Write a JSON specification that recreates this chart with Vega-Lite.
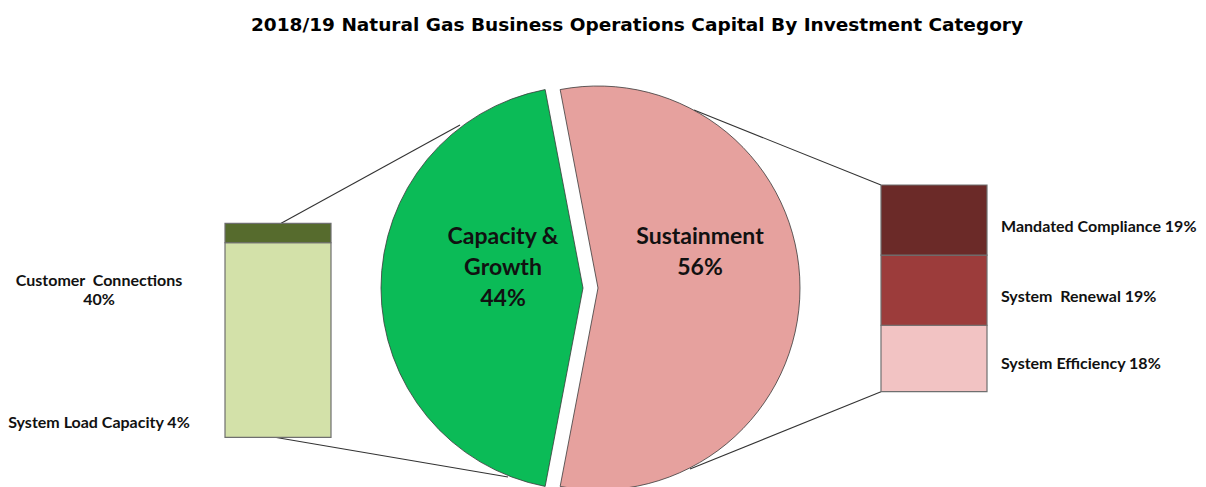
{
  "$schema": "https://vega.github.io/schema/vega-lite/v6.json",
  "autosize": {"type": "none"},
  "width": 1206,
  "height": 442,
  "padding": {"left": 0, "top": 45, "right": 0, "bottom": 0},
  "background": "white",
  "config": {"view": {"stroke": null}},
  "title": {
    "text": "2018/19 Natural Gas Business Operations Capital By Investment Category",
    "font": "DejaVu Sans",
    "fontSize": 18.5,
    "fontWeight": "bold",
    "color": "#000000",
    "anchor": "middle",
    "dx": 34,
    "offset": 11
  },
  "datasets": {
    "pie": [
      {"cat": "Capacity & Growth", "value": 44, "k": 1, "label": "Capacity &\nGrowth\n44%"},
      {"cat": "Sustainment", "value": 56, "k": 2, "label": "Sustainment\n56%"}
    ],
    "left": [
      {"side": "Capacity & Growth", "cat": "Customer  Connections", "value": 40, "k": 1, "label": "Customer\u00a0 Connections\n40%"},
      {"side": "Capacity & Growth", "cat": "System Load Capacity", "value": 4, "k": 2, "label": "System Load Capacity 4%"}
    ],
    "right": [
      {"side": "Sustainment", "cat": "System Efficiency", "value": 18, "k": 1, "label": "System Efficiency 18%"},
      {"side": "Sustainment", "cat": "System  Renewal", "value": 19, "k": 2, "label": "System\u00a0 Renewal 19%"},
      {"side": "Sustainment", "cat": "Mandated Compliance", "value": 19, "k": 3, "label": "Mandated Compliance 19%"}
    ]
  },
  "resolve": {"scale": {"y": "independent"}},
  "layer": [
    {
      "data": {"values": [{}]},
      "mark": {"type": "rule", "color": "#333333", "strokeWidth": 1.1},
      "encoding": {
        "x": {"datum": "Capacity & Growth", "type": "nominal", "bandPosition": 0.53, "scale": {"domain": ["Capacity & Growth", "Sustainment"], "range": [225, 987], "paddingInner": 0.83841, "paddingOuter": 0}, "axis": null},
        "y": {"datum": 44, "type": "quantitative", "scale": {"domain": [0, 44], "range": [392.3, 178.3], "nice": false, "zero": false}, "axis": null},
        "x2": {"value": 460},
        "y2": {"value": 80}
      }
    },
    {
      "data": {"values": [{}]},
      "mark": {"type": "rule", "color": "#333333", "strokeWidth": 1.1},
      "encoding": {
        "x": {"datum": "Capacity & Growth", "type": "nominal", "bandPosition": 0.47, "axis": null},
        "y": {"datum": 0, "type": "quantitative", "scale": {"domain": [0, 44], "range": [392.3, 178.3], "nice": false, "zero": false}, "axis": null},
        "x2": {"value": 508},
        "y2": {"value": 432}
      }
    },
    {
      "data": {"values": [{}]},
      "mark": {"type": "rule", "color": "#333333", "strokeWidth": 1.1},
      "encoding": {
        "x": {"datum": "Sustainment", "type": "nominal", "bandPosition": 0, "axis": null},
        "y": {"datum": 56, "type": "quantitative", "scale": {"domain": [0, 56], "range": [346.7, 140], "nice": false, "zero": false}, "axis": null},
        "x2": {"value": 694},
        "y2": {"value": 65}
      }
    },
    {
      "data": {"values": [{}]},
      "mark": {"type": "rule", "color": "#333333", "strokeWidth": 1.1},
      "encoding": {
        "x": {"datum": "Sustainment", "type": "nominal", "bandPosition": 0, "axis": null},
        "y": {"datum": 0, "type": "quantitative", "scale": {"domain": [0, 56], "range": [346.7, 140], "nice": false, "zero": false}, "axis": null},
        "x2": {"value": 690},
        "y2": {"value": 424}
      }
    },
    {
      "data": {"name": "left"},
      "transform": [{"stack": "value", "groupby": ["side"], "sort": [{"field": "k", "order": "ascending"}], "as": ["v0", "v1"]}],
      "mark": {"type": "bar", "stroke": "#6f6f6f", "strokeWidth": 1.2},
      "encoding": {
        "x": {"field": "side", "type": "nominal", "axis": null},
        "y": {"field": "v0", "type": "quantitative", "scale": {"domain": [0, 44], "range": [392.3, 178.3], "nice": false, "zero": false}, "axis": null},
        "y2": {"field": "v1"},
        "color": {"field": "cat", "type": "nominal", "legend": null, "scale": {"domain": ["Capacity & Growth", "Sustainment", "Customer  Connections", "System Load Capacity", "System Efficiency", "System  Renewal", "Mandated Compliance"], "range": ["#0bbb57", "#e6a19e", "#d3e1a9", "#566b2d", "#f2c3c3", "#9c3c3b", "#6b2a28"]}}
      }
    },
    {
      "data": {"name": "right"},
      "transform": [{"stack": "value", "groupby": ["side"], "sort": [{"field": "k", "order": "ascending"}], "as": ["v0", "v1"]}],
      "mark": {"type": "bar", "stroke": "#6f6f6f", "strokeWidth": 1.2},
      "encoding": {
        "x": {"field": "side", "type": "nominal", "axis": null},
        "y": {"field": "v0", "type": "quantitative", "scale": {"domain": [0, 56], "range": [346.7, 140], "nice": false, "zero": false}, "axis": null},
        "y2": {"field": "v1"},
        "color": {"field": "cat", "type": "nominal", "legend": null}
      }
    },
    {
      "data": {"name": "pie"},
      "mark": {"type": "arc", "outerRadius": 202, "stroke": "#3a3a3a", "strokeWidth": 0.8, "xOffset": -20, "yOffset": 22},
      "encoding": {
        "theta": {"field": "value", "type": "quantitative", "stack": true, "scale": {"domain": [0, 100], "range": [3.3301, 9.6133]}},
        "order": {"field": "k", "type": "quantitative"},
        "color": {"field": "cat", "type": "nominal", "legend": null},
        "opacity": {"condition": {"test": "datum.cat === 'Capacity & Growth'", "value": 1}, "value": 0}
      }
    },
    {
      "data": {"name": "pie"},
      "mark": {"type": "arc", "outerRadius": 202, "stroke": "#3a3a3a", "strokeWidth": 0.8, "xOffset": -5, "yOffset": 22},
      "encoding": {
        "theta": {"field": "value", "type": "quantitative", "stack": true},
        "order": {"field": "k", "type": "quantitative"},
        "color": {"field": "cat", "type": "nominal", "legend": null},
        "opacity": {"condition": {"test": "datum.cat === 'Sustainment'", "value": 1}, "value": 0}
      }
    },
    {
      "data": {"name": "pie"},
      "mark": {"type": "text", "radius": 80, "font": "Lato", "fontWeight": "bold", "fontSize": 23, "lineHeight": 31, "lineBreak": "\n", "align": "center", "baseline": "top", "dy": -62, "color": "#111111", "xOffset": -20, "yOffset": 22},
      "encoding": {
        "theta": {"field": "value", "type": "quantitative", "stack": true},
        "order": {"field": "k", "type": "quantitative"},
        "text": {"field": "label", "type": "nominal"},
        "opacity": {"condition": {"test": "datum.cat === 'Capacity & Growth'", "value": 1}, "value": 0}
      }
    },
    {
      "data": {"name": "pie"},
      "mark": {"type": "text", "radius": 102, "font": "Lato", "fontWeight": "bold", "fontSize": 23, "lineHeight": 31, "lineBreak": "\n", "align": "center", "baseline": "top", "dy": -62, "color": "#111111", "xOffset": -5, "yOffset": 22},
      "encoding": {
        "theta": {"field": "value", "type": "quantitative", "stack": true},
        "order": {"field": "k", "type": "quantitative"},
        "text": {"field": "label", "type": "nominal"},
        "opacity": {"condition": {"test": "datum.cat === 'Sustainment'", "value": 1}, "value": 0}
      }
    },
    {
      "data": {"name": "left"},
      "mark": {"type": "text", "font": "Lato", "fontWeight": "bold", "fontSize": 16, "lineHeight": 19, "lineBreak": "\n", "align": "center", "baseline": "middle", "dx": -126, "color": "#111111"},
      "encoding": {
        "x": {"field": "side", "type": "nominal", "bandPosition": 0, "axis": null},
        "y": {"field": "cat", "type": "nominal", "scale": {"type": "point", "domain": ["Customer  Connections", "System Load Capacity"], "range": [236, 378], "padding": 0}, "axis": null},
        "text": {"field": "label", "type": "nominal"}
      }
    },
    {
      "data": {"name": "right"},
      "transform": [{"stack": "value", "groupby": ["side"], "sort": [{"field": "k", "order": "ascending"}], "as": ["v0", "v1"]}],
      "mark": {"type": "text", "font": "Lato", "fontWeight": "bold", "fontSize": 16, "align": "left", "baseline": "middle", "dx": 14, "dy": -28, "color": "#111111"},
      "encoding": {
        "x": {"field": "side", "type": "nominal", "bandPosition": 1, "axis": null},
        "y": {"field": "v0", "type": "quantitative", "scale": {"domain": [0, 56], "range": [346.7, 140], "nice": false, "zero": false}, "axis": null},
        "text": {"field": "label", "type": "nominal"}
      }
    }
  ]
}
